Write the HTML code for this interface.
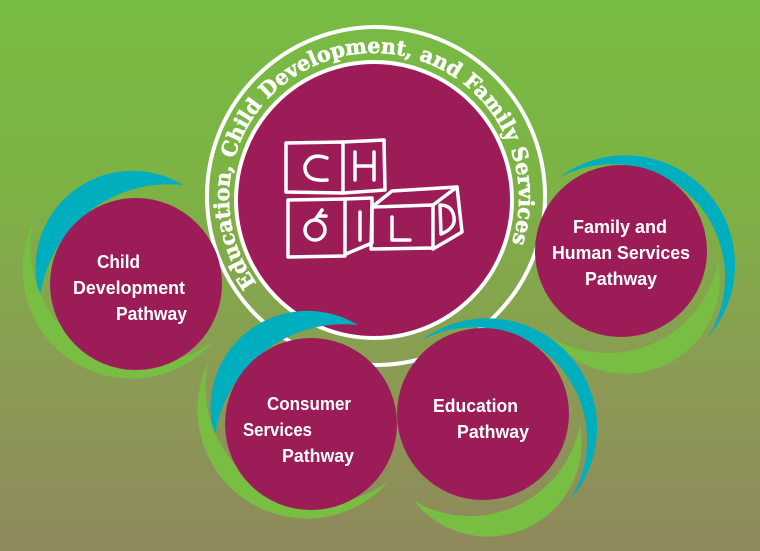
<!DOCTYPE html>
<html><head><meta charset="utf-8"><style>
html,body{margin:0;padding:0;}
body{width:760px;height:551px;overflow:hidden;}
svg{display:block;}
.t{font-family:"Liberation Sans","DejaVu Sans",sans-serif;font-weight:bold;font-size:18px;fill:#fff;}
</style></head><body>
<svg width="760" height="551" viewBox="0 0 760 551" xmlns="http://www.w3.org/2000/svg">
<defs>
<linearGradient id="bg" x1="0" y1="0" x2="0" y2="1">
<stop offset="0" stop-color="#77bc43"/>
<stop offset="0.35" stop-color="#7db244"/>
<stop offset="0.7" stop-color="#8b9a55"/>
<stop offset="1" stop-color="#8f885c"/>
</linearGradient>
<path id="arc" d="M256.7,283.3 A145,145 0 1 1 511.1,245.2"/>
</defs>
<rect width="760" height="551" fill="url(#bg)"/>

<!-- central -->
<circle cx="376" cy="196" r="169" fill="none" stroke="#fff" stroke-width="4"/>
<circle cx="374" cy="200" r="138" fill="#9c1c58" stroke="#fff" stroke-width="4"/>
<text font-family="'DejaVu Serif','Liberation Serif',serif" font-weight="bold" font-size="21" fill="#fff" stroke="#fff" stroke-width="0.6"><textPath href="#arc" textLength="592" lengthAdjust="spacingAndGlyphs">Education, Child Development, and Family Services</textPath></text>

<!-- blocks -->
<g fill="none" stroke="#fff" stroke-width="3.5" stroke-linecap="round" stroke-linejoin="round">
<path d="M286,143 L343,142 L343,193 L286,192 Z"/>
<path d="M343,142 L384,140 L385,190 L343,193"/>
<path d="M288,200 L345,199 L345,256 L288,257 Z"/>
<path d="M345,199 L372,198 L372,243 L346,254"/>
<path d="M372,207 L433,205 L433,248 L371,249 Z"/>
<path d="M372,207 L392,191 L457,187 L433,205"/>
<path d="M457,187 L462,232 L433,249"/>
<path d="M327,158 Q310,152 305,166 Q304,182 327,180"/>
<path d="M355,152 L355,180 M374,152 L374,180 M355,166 L374,166"/>
<circle cx="315" cy="230" r="10"/>
<path d="M315,220 L322,210 M318,216 L326,216"/>
<path d="M360,212 L360,240"/>
<path d="M392,217 L392,240 L410,240"/>
<path d="M440,205 L441,234 Q456,228 454,217 Q452,205 440,205"/>
</g>

<!-- crescents -->
<g id="cl">
<path d="M40,297 A97,97 0 0 1 183,185 A130,130 0 0 0 40,297 Z" fill="#00aebe"/>
<path d="M33,223 A109,109 0 0 0 213,342 A116,116 0 0 1 33,223 Z" fill="#78be43"/>
</g>
<use href="#cl" transform="translate(175,140)"/>
<g id="cr">
<path d="M560,177 A109.6,109.6 0 0 1 708,337 A113,113 0 0 0 560,177 Z" fill="#00aebe"/>
<path d="M718,262 A94,94 0 0 1 552,338 A112,112 0 0 0 718,262 Z" fill="#78be43"/>
</g>
<use href="#cr" transform="translate(-138,163)"/>

<!-- satellite circles -->
<circle cx="136" cy="284" r="86" fill="#9c1c58"/>
<circle cx="311" cy="424" r="86" fill="#9c1c58"/>
<circle cx="483" cy="414" r="86" fill="#9c1c58"/>
<circle cx="621" cy="251" r="86" fill="#9c1c58"/>

<g class="t">
<text class="t" x="97" y="268" textLength="43" lengthAdjust="spacingAndGlyphs">Child</text>
<text class="t" x="73" y="294" textLength="112" lengthAdjust="spacingAndGlyphs">Development</text>
<text class="t" x="116" y="320" textLength="71" lengthAdjust="spacingAndGlyphs">Pathway</text>

<text class="t" x="267" y="410" textLength="84" lengthAdjust="spacingAndGlyphs">Consumer</text>
<text class="t" x="243" y="436" textLength="69" lengthAdjust="spacingAndGlyphs">Services</text>
<text class="t" x="282" y="462" textLength="72" lengthAdjust="spacingAndGlyphs">Pathway</text>

<text class="t" x="433" y="412" textLength="85" lengthAdjust="spacingAndGlyphs">Education</text>
<text class="t" x="457" y="438" textLength="72" lengthAdjust="spacingAndGlyphs">Pathway</text>

<text class="t" x="573" y="233" textLength="94" lengthAdjust="spacingAndGlyphs">Family and</text>
<text class="t" x="552" y="259" textLength="138" lengthAdjust="spacingAndGlyphs">Human Services</text>
<text class="t" x="585" y="285" textLength="72" lengthAdjust="spacingAndGlyphs">Pathway</text>
</g>
</svg>
</body></html>
